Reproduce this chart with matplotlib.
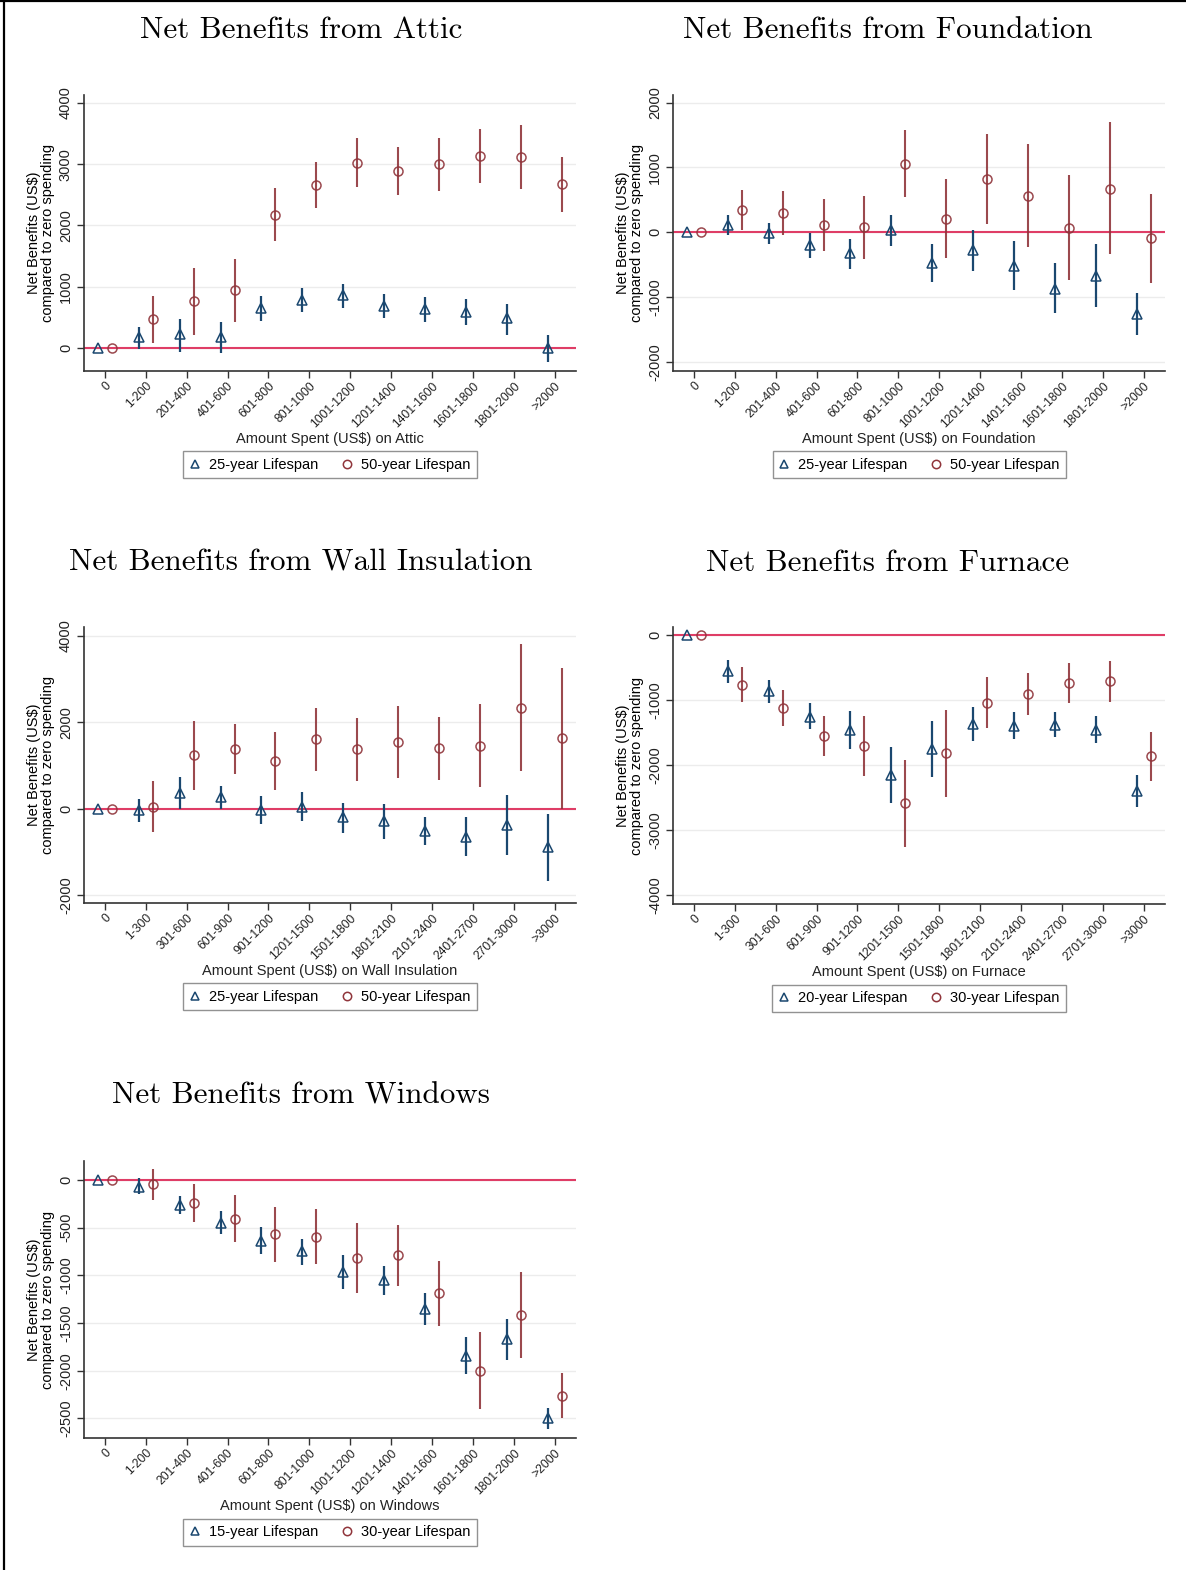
import numpy as np
import matplotlib
matplotlib.use("Agg")
import matplotlib.pyplot as plt
from matplotlib.lines import Line2D

plt.rcParams['font.family'] = ['Liberation Sans', 'DejaVu Sans']
plt.rcParams['axes.unicode_minus'] = False

# spending bins
bins_200 = ["0", "1-200", "201-400", "401-600", "601-800", "801-1000", "1001-1200",
            "1201-1400", "1401-1600", "1601-1800", "1801-2000", ">2000"]
bins_300 = ["0", "1-300", "301-600", "601-900", "901-1200", "1201-1500", "1501-1800",
            "1801-2100", "2101-2400", "2401-2700", "2701-3000", ">3000"]

# attic
attic_short = [0, 190, 233, 190, 662, 787, 868, 689, 635, 586, 488, 0]
attic_short_lo = [0, -16, -54, -70, 450, 597, 662, 499, 434, 380, 217, -217]
attic_short_hi = [0, 353, 472, 423, 857, 977, 1047, 879, 830, 798, 722, 217]
attic_long = [0, 472, 770, 950, 2170, 2659, 3022, 2892, 2995, 3125, 3109, 2670]
attic_long_lo = [0, 81, 217, 423, 1747, 2279, 2632, 2496, 2561, 2697, 2588, 2214]
attic_long_hi = [0, 852, 1302, 1449, 2604, 3038, 3418, 3283, 3418, 3565, 3635, 3120]

# foundation
found_short = [0, 118, -10, -201, -319, 31, -474, -278, -520, -870, -680, -1256]
found_short_lo = [0, -46, -185, -391, -561, -211, -767, -602, -896, -1246, -1163, -1591]
found_short_hi = [0, 263, 144, -10, -98, 273, -185, 41, -139, -474, -190, -932]
found_long = [0, 340, 299, 118, 82, 1050, 206, 829, 566, 72, 674, -88]
found_long_lo = [0, 31, -46, -288, -407, 546, -396, 134, -227, -741, -340, -783]
found_long_hi = [0, 659, 633, 505, 561, 1575, 819, 1524, 1369, 880, 1704, 597]

# wall insulation
wall_short = [0, -23, 363, 270, -23, 39, -193, -286, -517, -656, -386, -888]
wall_short_lo = [0, -309, -15, -15, -347, -293, -564, -695, -849, -1097, -1066, -1676]
wall_short_hi = [0, 232, 734, 525, 286, 386, 131, 100, -193, -193, 309, -131]
wall_long = [0, 39, 1236, 1367, 1104, 1598, 1367, 1544, 1390, 1452, 2332, 1622]
wall_long_lo = [0, -541, 425, 788, 425, 873, 641, 718, 672, 502, 873, 0]
wall_long_hi = [0, 641, 2031, 1946, 1776, 2317, 2100, 2371, 2108, 2417, 3799, 3243]

# furnace
furn_short = [0, -554, -862, -1256, -1462, -2154, -1754, -1369, -1395, -1385, -1462, -2400]
furn_short_lo = [0, -733, -1041, -1451, -1759, -2579, -2190, -1626, -1605, -1574, -1656, -2651]
furn_short_hi = [0, -385, -692, -1051, -1169, -1718, -1323, -1113, -1179, -1179, -1246, -2154]
furn_long = [0, -769, -1118, -1549, -1708, -2590, -1821, -1041, -913, -744, -713, -1862]
furn_long_lo = [0, -1026, -1400, -1856, -2164, -3267, -2487, -1436, -1231, -1051, -1026, -2246]
furn_long_hi = [0, -497, -846, -1241, -1246, -1923, -1154, -641, -590, -436, -395, -1487]

# windows
win_short = [0, -70, -262, -448, -636, -745, -962, -1049, -1353, -1843, -1668, -2493]
win_short_lo = [0, -150, -357, -570, -776, -892, -1143, -1206, -1521, -2035, -1888, -2615]
win_short_hi = [0, 17, -168, -325, -497, -619, -787, -902, -1188, -1650, -1461, -2388]
win_long = [0, -45, -245, -409, -570, -594, -822, -790, -1189, -2003, -1416, -2266]
win_long_lo = [0, -210, -444, -654, -864, -885, -1189, -1108, -1531, -2406, -1871, -2493]
win_long_hi = [0, 112, -45, -157, -280, -304, -455, -472, -850, -1591, -962, -2028]

navy = "#1a476f"
maroon = "#90353b"
zero_red = "#df3d66"

W, H = 1186, 1570
fig = plt.figure(figsize=(W / 100, H / 100), dpi=100)

# frame on the left and top of the page
fig.add_artist(Line2D([3.5 / W, 3.5 / W], [0, 1], color="black", lw=1.6))
fig.add_artist(Line2D([0, 1], [1 - 1.0 / H, 1 - 1.0 / H], color="black", lw=1.6))


def panel(rect, title, title_xy, cats, short, s_lo, s_hi, long, l_lo, l_hi,
          ylim, yticks, what, labels):
    left, top, right, bottom = rect
    ax = fig.add_axes([left / W, 1 - bottom / H, (right - left) / W, (bottom - top) / H])
    x = np.arange(len(cats))
    off = 0.17
    ax.axhline(0, color=zero_red, lw=1.5, zorder=1.5)
    short = np.array(short); long = np.array(long)
    ax.errorbar(x - off, short, yerr=[short - np.array(s_lo), np.array(s_hi) - short],
                fmt='^', ms=6.5, mfc='none', mec=navy, mew=1.1, ecolor=navy,
                elinewidth=1.6, capsize=0, zorder=3)
    ax.errorbar(x + off, long, yerr=[long - np.array(l_lo), np.array(l_hi) - long],
                fmt='o', ms=6.5, mfc='none', mec=maroon, mew=1.1, ecolor=maroon,
                elinewidth=1.5, capsize=0, zorder=3, alpha=0.9)
    ax.set_xlim(-0.51, len(cats) - 0.48)
    ax.set_ylim(*ylim)
    ax.set_yticks(yticks)
    ax.set_yticklabels([str(t) for t in yticks], rotation=90, va='center', fontsize=10.5, color="#222")
    ax.set_xticks(x)
    ax.set_xticklabels(cats, rotation=45, ha='right', rotation_mode='anchor', fontsize=8.7, color="#222")
    ax.grid(axis='y', color="#ececec", lw=1)
    ax.set_axisbelow(True)
    for s in ['top', 'right']:
        ax.spines[s].set_visible(False)
    for s in ['left', 'bottom']:
        ax.spines[s].set_color("#333")
        ax.spines[s].set_linewidth(1.2)
    ax.tick_params(direction='out', length=5, width=1, color="#333", pad=3)
    ax.tick_params(axis='x', pad=1.5)
    ax.set_ylabel("Net Benefits (US\\$)\ncompared to zero spending", fontsize=10.5,
                  linespacing=1.0, labelpad=3)
    ax.annotate("Amount Spent (US\\$) on " + what, xy=(0.5, 0), xycoords='axes fraction',
                xytext=(0, -49), textcoords='offset points', ha='center', va='center',
                fontsize=10.5, color="#222")
    handles = [Line2D([], [], ls='none', marker='^', ms=6, mfc='none', mec=navy, mew=1.1),
               Line2D([], [], ls='none', marker='o', ms=6, mfc='none', mec=maroon, mew=1.1)]
    leg = ax.legend(handles, labels, loc='center', bbox_to_anchor=(0.5, -0.34), ncol=2,
                    frameon=True, fancybox=False, edgecolor="#777", fontsize=10.5,
                    handlelength=0.7, handletextpad=0.6, columnspacing=1.6, borderpad=0.45)
    leg.get_frame().set_linewidth(1.0)
    fig.text(title_xy[0] / W, 1 - title_xy[1] / H, title, family='cmr10',
             fontsize=22.4, ha='center', va='center')
    return ax


panel((84, 95, 576, 371), "Net Benefits from Attic", (301, 30), bins_200,
      attic_short, attic_short_lo, attic_short_hi, attic_long, attic_long_lo, attic_long_hi,
      (-370, 4125), [0, 1000, 2000, 3000, 4000], "Attic",
      ["25-year Lifespan", "50-year Lifespan"])
panel((673, 95, 1165, 371), "Net Benefits from Foundation", (888, 30), bins_200,
      found_short, found_short_lo, found_short_hi, found_long, found_long_lo, found_long_hi,
      (-2144, 2119), [-2000, -1000, 0, 1000, 2000], "Foundation",
      ["25-year Lifespan", "50-year Lifespan"])
panel((84, 627, 576, 903), "Net Benefits from Wall Insulation", (301, 563), bins_300,
      wall_short, wall_short_lo, wall_short_hi, wall_long, wall_long_lo, wall_long_hi,
      (-2185, 4200), [-2000, 0, 2000, 4000], "Wall Insulation",
      ["25-year Lifespan", "50-year Lifespan"])
panel((673, 627, 1165, 904), "Net Benefits from Furnace", (888, 563), bins_300,
      furn_short, furn_short_lo, furn_short_hi, furn_long, furn_long_lo, furn_long_hi,
      (-4138, 123), [-4000, -3000, -2000, -1000, 0], "Furnace",
      ["20-year Lifespan", "30-year Lifespan"])
panel((84, 1161, 576, 1438), "Net Benefits from Windows", (301, 1096), bins_200,
      win_short, win_short_lo, win_short_hi, win_long, win_long_lo, win_long_hi,
      (-2707, 200), [-2500, -2000, -1500, -1000, -500, 0], "Windows",
      ["15-year Lifespan", "30-year Lifespan"])

fig.savefig("out.png", dpi=100)
